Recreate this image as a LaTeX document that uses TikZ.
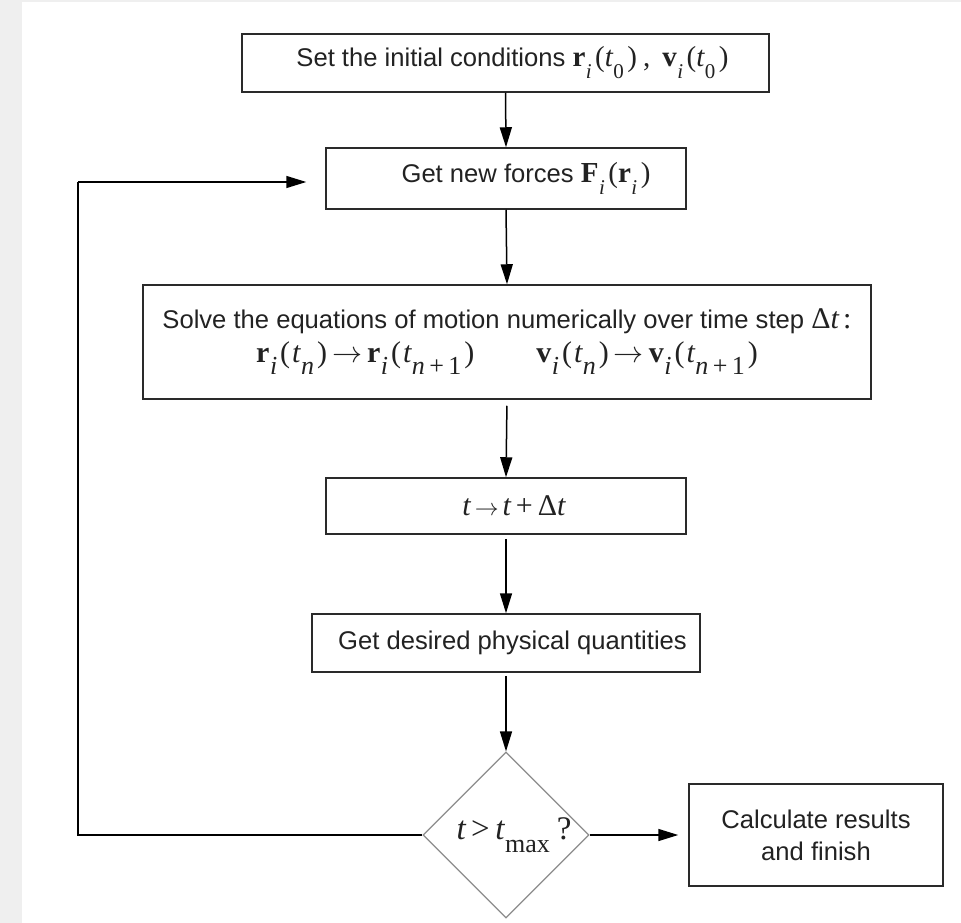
\documentclass[tikz,border=0pt]{standalone}
\usepackage{fontspec}
\usepackage{graphicx}
\setmainfont{Liberation Sans}
\newfontfamily\tms{Liberation Serif}
\usetikzlibrary{arrows.meta,shapes.geometric}
\definecolor{bggray}{HTML}{EFEFEF}
\definecolor{txt}{HTML}{222222}
\definecolor{edge}{HTML}{2A2A2A}
\definecolor{diagray}{HTML}{8C8C8C}
\newcommand\msz{29}
\newcommand\ssz{20}
\newcommand\sdrop{12pt}
\newcommand\skern{1.5pt}
\newcommand\pkern{0pt}
\newcommand\akern{4pt}
\newcommand\ascale{1.45}
\newcommand\tmI[1]{{\tms\fontsize{\msz}{32}\selectfont\itshape #1}}
\newcommand\tmB[1]{{\tms\fontsize{\msz}{32}\selectfont\bfseries #1}}
\newcommand\tmR[1]{{\tms\fontsize{\msz}{32}\selectfont #1}}
\newcommand\lpar{\tmR{(}\kern\pkern}
\newcommand\lsub[1]{\kern0.5pt\raisebox{-\sdrop}{\tms\fontsize{\ssz}{\ssz}\selectfont #1}\kern\skern}
\newcommand\rarr{{\fontsize{20.74}{24}\selectfont\kern\akern\scalebox{\ascale}{$\rightarrow$}\kern\akern}}
\newcommand\solveset{\renewcommand\msz{30}\renewcommand\ssz{26}\renewcommand\skern{3pt}\renewcommand\pkern{2pt}\renewcommand\akern{5pt}}
\tikzset{
  stepbox/.style={draw=edge, line width=1.5pt, rectangle, inner sep=0pt, text=txt,
    font=\fontsize{25.6}{32}\selectfont},
  flow/.style={draw=black, line width=1.5pt, -{Triangle[length=20pt,width=12pt]}},
  plain/.style={draw=black, line width=1.5pt},
}
\begin{document}
\begin{tikzpicture}[x=1pt,y=-1pt]
\useasboundingbox (0,0) rectangle (961,923);
\fill[bggray] (0,0) rectangle (961,923);
\fill[white] (22,2) rectangle (961,923);

\node[stepbox, minimum width=527pt, minimum height=58pt] (b1) at (505.5,63)
  {\renewcommand\skern{3.5pt}\renewcommand\ssz{21}\hspace*{14pt}Set the initial conditions \tmB{r}\lsub{\itshape i}\lpar\tmI{t}\lsub{0}\tmR{)}\hspace{6pt}\tmR{,}\hspace{12pt}\tmB{v}\lsub{\itshape i}\lpar\tmI{t}\lsub{0}\tmR{)}};

\node[stepbox, minimum width=360pt, minimum height=61pt] (b2) at (506,178.5)
  {\renewcommand\skern{3.5pt}\renewcommand\ssz{21}\hspace*{40pt}Get new forces \tmB{F}\lsub{\itshape i}\lpar\tmB{r}\lsub{\itshape i}\tmR{)}};

\node[stepbox, minimum width=728pt, minimum height=114pt, align=center] (b3) at (507,342)
  {\solveset Solve the equations of motion numerically over time step \tmR{Δ}\tmI{t}\,\tmR{:}\\[2pt]
   \solveset\tmB{r}\lsub{\itshape i}\lpar\tmI{t}\lsub{\itshape n}\tmR{)}\rarr\tmB{r}\lsub{\itshape i}\lpar\tmI{t}\lsub{{\itshape n}\,+\,1}\tmR{)}\hspace{62pt}\tmB{v}\lsub{\itshape i}\lpar\tmI{t}\lsub{\itshape n}\tmR{)}\rarr\tmB{v}\lsub{\itshape i}\lpar\tmI{t}\lsub{{\itshape n}\,+\,1}\tmR{)}};

\node[stepbox, minimum width=360pt, minimum height=56pt] (b4) at (506,506)
  {\renewcommand\msz{30}\renewcommand\ascale{1.15}\hspace*{16pt}\tmI{t}\rarr\tmI{t}\tmR{\,+\,Δ}\tmI{t}};

\node[stepbox, minimum width=388pt, minimum height=58pt] (b5) at (506,643)
  {\hspace*{13pt}Get desired physical quantities};

\node[draw=diagray, line width=1.2pt, diamond, inner sep=0pt, minimum width=166pt, minimum height=164pt, text=txt] (dia) at (506,835)
  {\renewcommand\msz{33}\renewcommand\ssz{26}\renewcommand\sdrop{13pt}\hspace*{16pt}\tmI{t}\tmR{\,>\,}\tmI{t}\lsub{max}\tmR{\,?}};

\node[stepbox, minimum width=254pt, minimum height=102pt, align=center] (b6) at (816,835)
  {Calculate results\\and finish};

\coordinate (fbB) at (78,835);
\coordinate (fbT) at (78,182);

\draw[flow] (b1.south) -- (b2.north);
\draw[flow] (b2.south) -- (b3.north);
\draw[flow, shorten <=6pt] (b3.south) -- (b4.north);
\draw[flow, shorten <=4pt] (b4.south) -- (b5.north);
\draw[flow, shorten <=3pt] (b5.south) -- (dia.north);
\draw[plain] (dia.west) -- (fbB) -- (fbT);
\draw[flow, shorten >=19pt] (fbT) -- (fbT -| b2.west);
\draw[flow, shorten >=10pt] (dia.east) -- (b6.west);
\end{tikzpicture}
\end{document}
